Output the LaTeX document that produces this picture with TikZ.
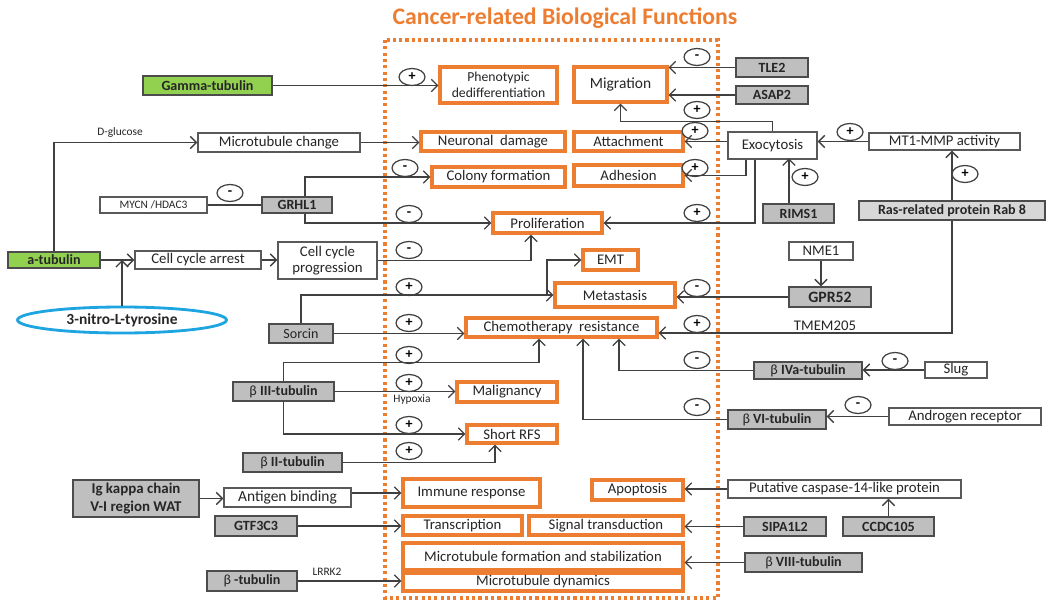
\documentclass[tikz,border=0pt]{standalone}
\usepackage{fontspec}
\setmainfont{Carlito}
\usetikzlibrary{shapes,
                arrows.meta,
                positioning}

\definecolor{fnorange}{RGB}{237,125,49}
\definecolor{genegray}{RGB}{191,191,191}
\definecolor{lightgene}{RGB}{215,215,215}
\definecolor{tubgreen}{RGB}{146,208,80}
\definecolor{nitroblue}{RGB}{30,165,225}
\definecolor{wire}{RGB}{64,64,64}

\newcommand{\gbeta}{{\mdseries β}}

\tikzset{box/.style=
   {rectangle,
    draw=black!65,
    line width=0.8pt,
    fill=white,
    text=black!85,
    text centered,
    align=center,
    inner sep=0pt,
    font=\fontsize{8.4}{9.4}\selectfont}}
\tikzset{func/.style = {box, draw=fnorange, line width=1.8pt}}
\tikzset{gene/.style = {box, draw=black!70, fill=genegray,
    font=\fontsize{8}{9}\selectfont\bfseries}}
\tikzset{tubulin/.style = {gene, fill=tubgreen}}
\tikzset{sign/.style = {ellipse, draw=wire, line width=0.7pt, fill=white,
    minimum width=0.52cm, minimum height=0.34cm, inner sep=0pt,
    font=\fontsize{8}{8}\selectfont\bfseries}}
\tikzset{tag/.style = {inner sep=0pt, text=black!85,
    font=\fontsize{6.5}{7}\selectfont}}
\tikzset{wh/.style 2 args = {minimum width=#1*0.02cm, minimum height=#2*0.02cm}}
\tikzset{arrow/.style = {draw=wire, line width=0.75pt,
    -{Straight Barb[length=3.5pt, width=7pt]}}}
\tikzset{link/.style = {draw=wire, line width=0.75pt}}

\begin{document}
\begin{tikzpicture}[x=0.02cm, y=-0.02cm]

    \path[fill=white, use as bounding box] (0,0) rectangle (1050,601);

    % Frame and heading
    \node[font=\fontsize{13.5}{15}\selectfont\bfseries, text=fnorange] (title) at (565,18) {Cancer-related Biological Functions};
    \draw[fnorange, line width=1.8pt, dash pattern=on 1.8pt off 1.8pt] (385,40) rectangle (718,598);

    % Functions
    \node[func, wh={117}{36}, font=\fontsize{7.8}{8.8}\selectfont] (phen) at (498.5,85) {Phenotypic\\dedifferentiation};
    \node[func, wh={93}{35}, font=\fontsize{8.8}{9}\selectfont] (migr) at (620.5,84.5) {Migration};
    \node[func, wh={144}{19}] (neuro) at (493,141.5) {Neuronal\ \ damage};
    \node[func, wh={109}{19}] (attach) at (628.5,141.5) {Attachment};
    \node[func, wh={133}{20}] (colony) at (498.5,177) {Colony formation};
    \node[func, wh={109}{21}] (adhes) at (628.5,175.5) {Adhesion};
    \node[func, wh={109}{20}] (prolif) at (547.5,223) {Proliferation};
    \node[func, wh={55}{20}] (emt) at (610.5,260) {EMT};
    \node[func, wh={120}{24}] (meta) at (615,295) {Metastasis};
    \node[func, wh={191}{19}] (chemo) at (561.5,327.5) {Chemotherapy\ \ resistance};
    \node[func, wh={100}{20}] (malig) at (507,392) {Malignancy};
    \node[func, wh={90}{18}] (srfs) at (512,434) {Short RFS};
    \node[func, wh={137}{28}] (immune) at (471.5,493) {Immune response};
    \node[func, wh={91}{20}] (apop) at (637.5,490) {Apoptosis};
    \node[func, wh={119}{19}] (transc) at (462.5,525.5) {Transcription};
    \node[func, wh={154}{19}] (signal) at (606,525.5) {Signal transduction};
    \node[func, wh={280}{27}] (mtform) at (543,556.5) {Microtubule formation and stabilization};
    \node[func, wh={280}{18}] (mtdyn) at (543,582) {Microtubule dynamics};

    % Left side
    \node[tubulin, wh={129}{19}] (gamma) at (207.5,85.5) {Gamma-tubulin};
    \node[box, wh={162}{19}] (mtchange) at (279,142.5) {Microtubule change};
    \node[box, wh={107}{16}, font=\fontsize{6.5}{7}\selectfont] (mycn) at (153.5,205) {MYCN /HDAC3};
    \node[gene, wh={70}{16}] (grhl) at (297,205) {GRHL1};
    \node[tubulin, wh={92}{16}] (atub) at (54,260) {a-tubulin};
    \node[box, wh={126}{18}] (arrest) at (198,260) {Cell cycle arrest};
    \node[box, wh={99}{37}] (prog) at (327.5,260.5) {Cell cycle\\progression};
    \node[ellipse, draw=nitroblue, line width=1.6pt, fill=white, inner sep=0pt, wh={209}{26},
          font=\fontsize{8.8}{9}\selectfont\bfseries, text=black!85] (nitro) at (122,320) {3-nitro-L-tyrosine};
    \node[gene, wh={64}{19}, font=\fontsize{8}{9}\selectfont] (sorcin) at (301,333.5) {Sorcin};
    \node[gene, wh={101}{19}] (b3) at (283.5,391.5) {\gbeta\ III-tubulin};
    \node[gene, wh={99}{19}] (b2) at (292.5,462.5) {\gbeta\ II-tubulin};
    \node[gene, wh={126}{37}, font=\fontsize{8.5}{10}\selectfont\bfseries] (igk) at (136,498.5) {Ig kappa chain\\V-I region WAT};
    \node[box, wh={127}{19}, font=\fontsize{8.8}{9}\selectfont] (antigen) at (287.5,497.5) {Antigen binding};
    \node[gene, wh={82}{20}] (gtf) at (256,526) {GTF3C3};
    \node[gene, wh={90}{20}] (btub) at (252,581) {\gbeta\ -tubulin};

    % Right side
    \node[gene, wh={72}{19}] (tle2) at (772,67.5) {TLE2};
    \node[gene, wh={72}{18}] (asap2) at (772,95) {ASAP2};
    \node[box, wh={89}{27}] (exo) at (772.5,145.5) {Exocytosis};
    \node[box, wh={151}{17}] (mt1) at (944.5,141.5) {MT1-MMP activity};
    \node[gene, wh={71}{19}] (rims) at (798.5,213.5) {RIMS1};
    \node[gene, fill=lightgene, wh={186}{19}] (rab8) at (952,210.5) {Ras-related protein Rab 8};
    \node[box, wh={64}{18}] (nme1) at (821,251) {NME1};
    \node[gene, wh={82}{20}, font=\fontsize{9}{10}\selectfont\bfseries] (gpr52) at (830,297) {GPR52};
    \node[gene, wh={108}{17}] (b4a) at (808,370.5) {\gbeta\ IVa-tubulin};
    \node[box, wh={62}{16}] (slug) at (956,370) {Slug};
    \node[gene, wh={98}{19}] (b6) at (777,419.5) {\gbeta\ VI-tubulin};
    \node[box, wh={152}{17}] (andr) at (965,416.5) {Androgen receptor};
    \node[box, wh={233}{18}] (casp) at (844.5,489) {Putative caspase-14-like protein};
    \node[gene, wh={82}{19}] (sipa) at (785,526.5) {SIPA1L2};
    \node[gene, wh={91}{19}] (ccdc) at (888.5,526.5) {CCDC105};
    \node[gene, wh={117}{19}] (b8) at (803.5,562.5) {\gbeta\ VIII-tubulin};

    % Edge labels
    \node[tag] (dglu) at (120,133) {D-glucose};
    \node[tag] (hypoxia) at (412,399) {Hypoxia};
    \node[tag] (lrrk2) at (327,572) {LRRK2};
    \node[tag, font=\fontsize{8.4}{9}\selectfont] (tmem) at (825,326) {TMEM205};

    % Signs
    \node[sign] (sgamma) at (412,77) {+};
    \node[sign] (smycn) at (230,193) {-};
    \node[sign] (scolony) at (405,168) {-};
    \node[sign] (sgrhl) at (409,214) {-};
    \node[sign] (sprog) at (409,250) {-};
    \node[sign] (smeta) at (409,287) {+};
    \node[sign] (ssorcin) at (409,323) {+};
    \node[sign] (sbchemo) at (409,355) {+};
    \node[sign] (smalig) at (409,383) {+};
    \node[sign] (ssrfs) at (409,425) {+};
    \node[sign] (sbtwo) at (409,451) {+};
    \node[sign] (stle) at (697,57) {-};
    \node[sign] (smigr) at (697,110) {+};
    \node[sign] (sattach) at (695,131) {+};
    \node[sign] (sadhes) at (695,168) {+};
    \node[sign] (sprolif) at (697,213) {+};
    \node[sign] (smt) at (850,132) {+};
    \node[sign] (srims) at (805,177) {+};
    \node[sign] (srab) at (965,174) {+};
    \node[sign] (sgpr) at (697,288) {-};
    \node[sign] (stmem) at (697,324) {+};
    \node[sign] (sbfour) at (697,360) {-};
    \node[sign] (sslug) at (895,361) {-};
    \node[sign] (sbsix) at (697,407) {-};
    \node[sign] (sandr) at (858,405) {-};

    % Draw edges, left
    \path[arrow] (gamma.east) -- (gamma.east -| phen.west);
    \path[arrow] (atub.north) |- (mtchange.west);
    \path[arrow] (mtchange.east) -- (mtchange.east -| neuro.west);
    \path[link] (mycn.east) -- (grhl.west);
    \path[arrow] ([xshift=0.16cm]grhl.north) |- (colony.west);
    \path[arrow] ([xshift=0.16cm]grhl.south) |- (prolif.west);
    \path[arrow] (atub.east) -- (arrest.west);
    \path[arrow] (nitro.north) -- (nitro.north |- atub.east);
    \path[arrow] (arrest.east) -- (arrest.east -| prog.west);
    \path[arrow] (prog.east) -| ([xshift=-0.33cm]prolif.south);
    \coordinate (split) at (547,295);
    \path[arrow] (sorcin.north) |- (meta.west);
    \path[arrow] (split) |- (emt.west);
    \path[arrow] (sorcin.east) -- (sorcin.east -| chemo.west);
    \path[arrow] (b3.north) -- ++(0,-19) -| ([xshift=-0.45cm]chemo.south);
    \path[arrow] (b3.east) -- (b3.east -| malig.west);
    \path[arrow] (b3.south) |- (srfs.west);
    \path[arrow] (b2.east) -| ([xshift=-0.34cm]srfs.south);
    \path[arrow] (igk.east) -- (igk.east -| antigen.west);
    \path[arrow] (antigen.east |- immune.west) -- (immune.west);
    \path[arrow] (gtf.east) -- (gtf.east -| transc.west);
    \path[arrow] (btub.east) -- (btub.east -| mtdyn.west);

    % Draw edges, right
    \path[arrow] (tle2.west) -- (tle2.west -| migr.east);
    \path[arrow] (asap2.west) -- (asap2.west -| migr.east);
    \path[arrow] (exo.north) -- ++(0,-10) -| (migr.south);
    \path[arrow] (exo.west |- attach.east) -- (attach.east);
    \path[arrow] ([xshift=-0.53cm]exo.south) |- (adhes.east);
    \path[arrow] ([xshift=-0.35cm]exo.south) |- (prolif.east);
    \path[arrow] (mt1.west) -- (mt1.west -| exo.east);
    \path[arrow] ([xshift=-0.19cm]rims.north) -- ++(0,-45);
    \path[arrow] (rab8.north) -- (rab8.north |- mt1.south);
    \path[arrow] (rab8.south) |- ([yshift=-0.11cm]chemo.east);
    \path[arrow] (nme1.south) -- (nme1.south |- gpr52.north);
    \path[arrow] (gpr52.west) -- (gpr52.west -| meta.east);
    \path[arrow] (b4a.west) -| ([xshift=1.15cm]chemo.south);
    \path[arrow] (slug.west) -- (slug.west -| b4a.east);
    \path[arrow] (b6.west) -| ([xshift=0.43cm]chemo.south);
    \path[arrow] (andr.west) -- (andr.west -| b6.east);
    \path[arrow] (casp.west) -- (casp.west -| apop.east);
    \path[arrow] (sipa.west) -- (sipa.west -| signal.east);
    \path[arrow] (ccdc.north) -- (ccdc.north |- casp.south);
    \path[arrow] (b8.west) -- (b8.west -| mtform.east);

\end{tikzpicture}
\end{document}
